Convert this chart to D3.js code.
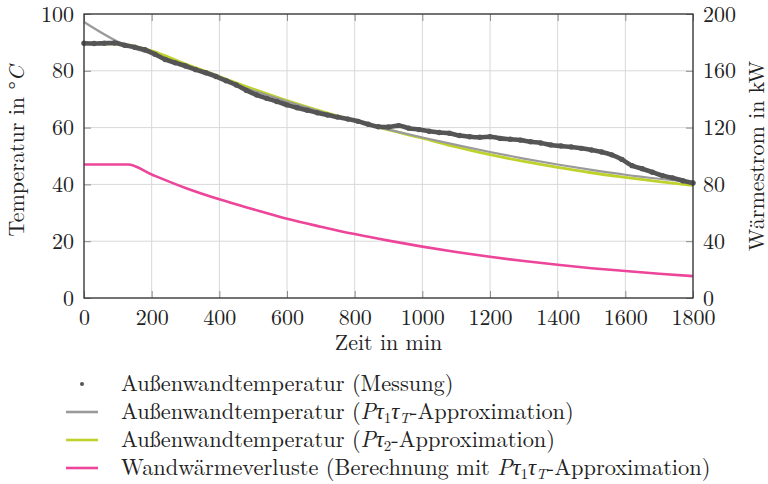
<!DOCTYPE html>
<html>
<head>
<meta charset="utf-8">
<script src="https://cdn.jsdelivr.net/npm/d3@7"></script>
<style>
  body { margin: 0; background: #fff; }
</style>
</head>
<body>
<div id="chart"></div>
<script>
var SERIF = "'Latin Modern Roman', 'Liberation Serif', serif";

// measured outer wall temperature (degC), one value every 30 min
var measTime = [0,30,60,90,120,150,180,210,240,270,300,330,360,390,420,450,480,510,540,570,
  600,630,660,690,720,750,780,810,840,870,900,930,960,990,1020,1050,1080,1110,1140,1170,
  1200,1230,1260,1290,1320,1350,1380,1410,1440,1470,1500,1530,1560,1590,1620,1650,1680,1710,1740,1770,1800];
var measTemp = [89.7,89.6,89.7,89.8,89.0,88.3,87.4,85.8,84.0,82.8,81.7,80.4,79.3,78.0,76.5,75.0,73.1,71.5,70.3,69.2,
  68.0,67.0,66.1,65.2,64.4,63.7,63.0,62.2,61.2,60.3,60.2,60.7,59.8,59.3,58.7,58.3,58.0,57.2,56.8,56.6,
  56.8,56.2,55.9,55.6,55.0,54.6,53.9,53.5,53.2,52.7,52.1,51.4,50.4,48.8,46.6,45.5,44.3,43.1,42.3,41.3,40.5];

// approximations (degC)
var approxTime = [0,130,200,300,400,500,600,700,800,900,1000,1100,1200,1300,1400,1500,1600,1700,1800];
var approxP1T  = [97.2,88.6,86.0,81.6,77.2,73.0,69.2,65.6,62.3,59.3,56.5,53.9,51.4,49.1,47.0,45.1,43.4,42.0,40.8];
var approxP2   = [89.8,89.0,87.0,82.4,78.0,73.6,69.5,65.8,62.4,59.2,56.3,53.2,50.5,48.1,46.0,44.1,42.5,41.0,39.6];

// wall heat loss (kW), right axis
var heatTime = [0,130,200,300,400,500,600,700,800,900,1000,1100,1200,1300,1400,1500,1600,1700,1800];
var heatKW   = [94,94,87,77.5,69.5,62.5,55.8,50.2,45,40.4,36.2,32.4,29,26,23.4,21,19,17.1,15.4];

var xTicks = [0,200,400,600,800,1000,1200,1400,1600,1800];
var yTicks = [0,20,40,60,80,100];
var y2Ticks = [0,40,80,120,160,200];

var colMeas = "#555555", colP1T = "#9a9a9a", colP2 = "#bfd22b", colHeat = "#ec4599";

var W = 768, H = 484;
var margin = { top: 14, right: 75, bottom: 186, left: 84 },
    width = W - margin.left - margin.right,
    height = H - margin.top - margin.bottom;

var svg = d3.select("#chart").append("svg")
  .attr("width", W).attr("height", H);
svg.append("rect").attr("width", W).attr("height", H).attr("fill", "#fff");

var g = svg.append("g").attr("transform", "translate(" + margin.left + "," + margin.top + ")");

var x = d3.scaleLinear().domain([0, 1800]).range([0, width]);
var y = d3.scaleLinear().domain([0, 100]).range([height, 0]);
var y2 = d3.scaleLinear().domain([0, 200]).range([height, 0]);

// grid
g.append("g").selectAll("line").data(xTicks).enter().append("line")
  .attr("x1", function(d) { return x(d); }).attr("x2", function(d) { return x(d); })
  .attr("y1", 0).attr("y2", height)
  .attr("stroke", "#d8d8d8").attr("stroke-width", 1);
g.append("g").selectAll("line").data(yTicks).enter().append("line")
  .attr("y1", function(d) { return y(d); }).attr("y2", function(d) { return y(d); })
  .attr("x1", 0).attr("x2", width)
  .attr("stroke", "#d8d8d8").attr("stroke-width", 1);

// axes, ticks pointing inwards
var fmt = d3.format("d");
var styleAxis = function(sel) {
  sel.attr("font-family", null).attr("font-size", null);
  sel.select(".domain").remove();
  sel.selectAll(".tick line").attr("stroke", "#8c8c8c").attr("stroke-width", 1);
  sel.selectAll(".tick text").style("font-family", SERIF).style("font-size", "22px").attr("fill", "#222");
};
g.append("g").attr("transform", "translate(0," + height + ")")
  .call(d3.axisBottom(x).tickValues(xTicks).tickFormat(fmt).tickSizeInner(-7).tickPadding(11))
  .call(styleAxis);
g.append("g")
  .call(d3.axisTop(x).tickValues(xTicks).tickFormat("").tickSizeInner(-7))
  .call(styleAxis);
g.append("g")
  .call(d3.axisLeft(y).tickValues(yTicks).tickFormat(fmt).tickSizeInner(-7).tickPadding(10))
  .call(styleAxis);
g.append("g").attr("transform", "translate(" + width + ",0)")
  .call(d3.axisRight(y2).tickValues(y2Ticks).tickFormat(fmt).tickSizeInner(-7).tickPadding(10))
  .call(styleAxis);

// curves
var line = function(xs, yScale) {
  return d3.line()
    .x(function(d, i) { return x(xs[i]); })
    .y(function(d) { return yScale(d); })
    .curve(d3.curveMonotoneX);
};
g.append("path").datum(heatKW).attr("fill", "none").attr("stroke", colHeat)
  .attr("stroke-width", 2.6).attr("d", line(heatTime, y2));
g.append("path").datum(approxP2).attr("fill", "none").attr("stroke", colP2)
  .attr("stroke-width", 2.8).attr("d", line(approxTime, y));
g.append("path").datum(approxP1T).attr("fill", "none").attr("stroke", colP1T)
  .attr("stroke-width", 2.2).attr("d", line(approxTime, y));
g.append("path").datum(measTemp).attr("fill", "none").attr("stroke", colMeas)
  .attr("stroke-width", 4.6).attr("stroke-linecap", "round").attr("d", line(measTime, y));
g.append("g").selectAll("circle").data(measTemp).enter().append("circle")
  .attr("cx", function(d, i) { return x(measTime[i]); })
  .attr("cy", function(d) { return y(d); })
  .attr("r", 2.7).attr("fill", colMeas);

// frame
g.append("rect").attr("width", width).attr("height", height)
  .attr("fill", "none").attr("stroke", "#333").attr("stroke-width", 1.3);

// axis labels
var label = function(sel, size) {
  return sel.style("font-family", SERIF).style("font-size", (size || 22) + "px").attr("fill", "#222");
};
svg.append("text").attr("x", margin.left + width / 2).attr("y", 350)
  .attr("text-anchor", "middle").call(label).text("Zeit in min");

var yl = svg.append("text").attr("transform", "translate(24,151) rotate(-90)")
  .attr("text-anchor", "middle").call(label);
yl.append("tspan").text("Temperatur in °");
yl.append("tspan").style("font-style", "italic").text("C");

svg.append("text").attr("transform", "translate(764,156) rotate(-90)")
  .attr("text-anchor", "middle").call(label).text("Wärmestrom in kW");

// legend
var legendItems = [
  { kind: "dot", color: colMeas, parts: [["Außenwandtemperatur (Messung)"]] },
  { kind: "line", color: colP1T, parts: [["Außenwandtemperatur ("], ["P", "i"], ["τ", "i"], ["1", "s"], ["τ", "i"], ["T", "si"], ["-Approximation)"]] },
  { kind: "line", color: colP2, parts: [["Außenwandtemperatur ("], ["P", "i"], ["τ", "i"], ["2", "s"], ["-Approximation)"]] },
  { kind: "line", color: colHeat, parts: [["Wandwärmeverluste (Berechnung mit "], ["P", "i"], ["τ", "i"], ["1", "s"], ["τ", "i"], ["T", "si"], ["-Approximation)"]] }
];

var legend = svg.append("g").attr("transform", "translate(0,384)");
legendItems.forEach(function(item, i) {
  var row = legend.append("g").attr("transform", "translate(0," + (i * 28) + ")");
  if (item.kind === "dot") {
    row.append("circle").attr("cx", 82).attr("cy", 0).attr("r", 2).attr("fill", item.color);
  } else {
    row.append("line").attr("x1", 66).attr("x2", 98).attr("y1", 0).attr("y2", 0)
      .attr("stroke", item.color).attr("stroke-width", 2.6);
  }
  var t = row.append("text").attr("x", 121).attr("y", 7).call(label, 22.4);
  var prevSub = false;
  item.parts.forEach(function(p) {
    var flags = p[1] || "";
    var sub = flags.indexOf("s") >= 0;
    var sp = t.append("tspan").text(p[0]);
    if (flags.indexOf("i") >= 0) sp.style("font-style", "italic");
    if (sub) sp.style("font-size", "15px");
    if (sub && !prevSub) sp.attr("dy", 4);
    if (!sub && prevSub) sp.attr("dy", -4);
    prevSub = sub;
  });
});
</script>
</body>
</html>
